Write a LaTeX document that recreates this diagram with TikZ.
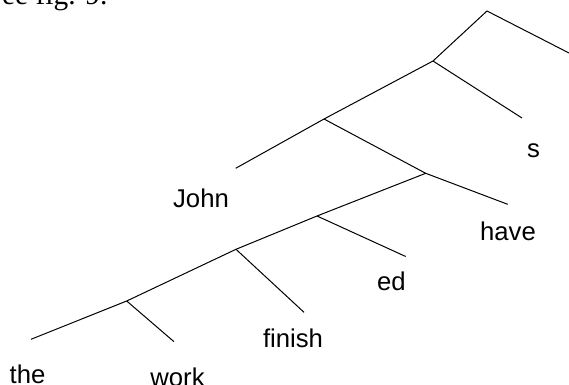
\documentclass[tikz,border=0pt]{standalone}
\usepackage{fontspec}
\setmainfont{Liberation Sans}
\newfontfamily\textserif{Liberation Serif}
\begin{document}
\begin{tikzpicture}[x=0.5pt, y=-0.5pt, line width=0.5pt,
    word/.style={anchor=base, inner sep=0pt, font=\fontsize{12.85}{15}\selectfont}]
        \useasboundingbox (0, 0) rectangle (569, 385);
        \clip (0, 0) rectangle (569, 385);

        \node[anchor=base east, inner sep=0pt, font=\textserif\fontsize{14.7}{17}\selectfont] (ref) at (108, 5) {See fig. 9.};

        % branching points
        \coordinate (top) at (487, 11);
        \coordinate (sa) at (433, 61);
        \coordinate (sb) at (324, 119);
        \coordinate (sc) at (425.7, 173.3);
        \coordinate (sd) at (317, 216);
        \coordinate (se) at (236, 249.3);
        \coordinate (sf) at (126.7, 301);

        % free ends of the branches
        \coordinate (right) at (569, 53);
        \coordinate (es) at (522, 118);
        \coordinate (ejohn) at (235.7, 168.3);
        \coordinate (ehave) at (507.7, 204.3);
        \coordinate (eed) at (405.7, 256.5);
        \coordinate (efinish) at (304, 312.3);
        \coordinate (ethe) at (31, 339.3);
        \coordinate (ework) at (174, 341.7);

        \draw (ehave) -- (sc) -- (sd) -- (se) -- (sf) -- (ethe);
        \draw (right) -- (top) -- (sa) -- (sb) -- (ejohn);
        \draw (sa) -- (es);
        \draw (sb) -- (sc);
        \draw (sd) -- (eed);
        \draw (se) -- (efinish);
        \draw (sf) -- (ework);

        \node[word] (s) at (533.5, 158) {s};
        \node[word] (john) at (201, 207.7) {John};
        \node[word] (have) at (508, 240.7) {have};
        \node[word] (ed) at (391.5, 290.7) {ed};
        \node[word] (finish) at (293, 347.3) {finish};
        \node[word] (the) at (27.5, 383.5) {the};
        \node[word] (work) at (177.5, 387) {work};
      \end{tikzpicture}
\end{document}
